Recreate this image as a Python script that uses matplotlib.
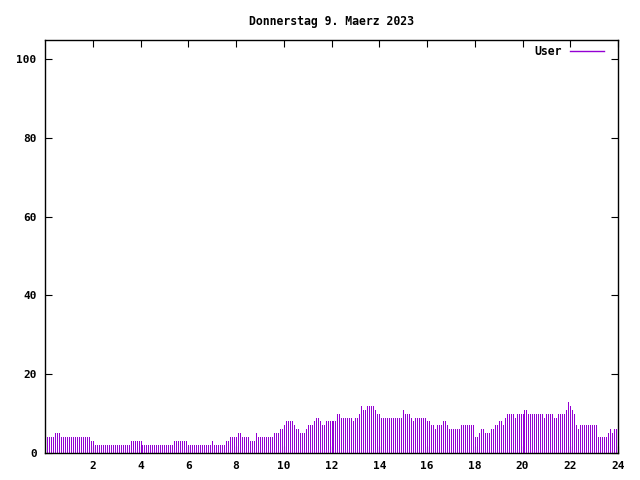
import numpy as np
import matplotlib
matplotlib.use("Agg")
import matplotlib.pyplot as plt
from matplotlib.lines import Line2D

# ====================== DATA ====================== #
# users online, one value per 5 minutes, one row per hour
title = "Donnerstag 9. Maerz 2023"
series_label = "User"
users = [
    4, 4, 4, 4, 4, 5, 5, 5, 4, 4, 4, 4,
    4, 4, 4, 4, 4, 4, 4, 4, 4, 4, 4, 3,
    3, 2, 2, 2, 2, 2, 2, 2, 2, 2, 2, 2,
    2, 2, 2, 2, 2, 2, 2, 3, 3, 3, 3, 3,
    3, 2, 2, 2, 2, 2, 2, 2, 2, 2, 2, 2,
    2, 2, 2, 2, 2, 3, 3, 3, 3, 3, 3, 3,
    2, 2, 2, 2, 2, 2, 2, 2, 2, 2, 2, 2,
    3, 2, 2, 2, 2, 2, 2, 3, 3, 4, 4, 4,
    4, 5, 5, 4, 4, 4, 4, 3, 3, 3, 5, 4,
    4, 4, 4, 4, 4, 4, 4, 5, 5, 5, 6, 6,
    7, 8, 8, 8, 8, 7, 6, 6, 5, 5, 5, 6,
    7, 7, 7, 8, 9, 9, 8, 7, 7, 8, 8, 8,
    8, 8, 8, 10, 10, 9, 9, 9, 9, 9, 9, 8,
    9, 9, 10, 12, 11, 11, 12, 12, 12, 12, 11, 10,
    10, 9, 9, 9, 9, 9, 9, 9, 9, 9, 9, 9,
    11, 10, 10, 10, 9, 8, 9, 9, 9, 9, 9, 9,
    8, 8, 7, 7, 6, 7, 7, 7, 8, 8, 7, 6,
    6, 6, 6, 6, 6, 7, 7, 7, 7, 7, 7, 7,
    4, 4, 5, 6, 6, 5, 5, 5, 6, 6, 7, 7,
    8, 8, 7, 9, 10, 10, 10, 10, 9, 10, 10, 10,
    10, 11, 11, 10, 10, 10, 10, 10, 10, 10, 10, 9,
    10, 10, 10, 10, 9, 9, 10, 10, 10, 10, 11, 13,
    12, 11, 10, 7, 6, 7, 7, 7, 7, 7, 7, 7,
    7, 7, 4, 4, 4, 4, 4, 5, 6, 5, 6, 6,
]
hours = np.arange(len(users)) / 12.0
x_ticks = [2, 4, 6, 8, 10, 12, 14, 16, 18, 20, 22, 24]
y_ticks = [0, 20, 40, 60, 80, 100]

# ====================== PLOT ====================== #
color = "#9400d3"
font = {"family": "DejaVu Sans Mono", "weight": "bold", "size": 8}

fig = plt.figure(figsize=(6.4, 4.8), dpi=100)
ax = fig.add_axes([45 / 640, 1 - 453 / 480, 573 / 640, 413 / 480])

ax.vlines(hours, 0, users, colors=color, linewidth=0.72, antialiased=False)

ax.set_xlim(0, 24)
ax.set_ylim(0, 104.8)
ax.set_xticks(x_ticks)
ax.set_yticks(y_ticks)
ax.set_xticklabels([str(t) for t in x_ticks], fontdict=font)
ax.set_yticklabels([str(t) for t in y_ticks], fontdict=font)
ax.tick_params(direction="in", length=5, width=0.8, top=True, right=True,
               pad=6, colors="black")

for spine in ax.spines.values():
    spine.set_linewidth(1)
    spine.set_color("black")

ax.set_title(title, fontdict={**font, "size": 8.3}, pad=11)

# legend handle drawn as a plain line, like gnuplot's key sample
handle = Line2D([], [], color=color, linewidth=1.0, antialiased=False)
leg = ax.legend([handle], [series_label], loc="upper right", frameon=False,
                prop={"family": "DejaVu Sans Mono", "weight": "bold", "size": 8.3},
                markerfirst=False, handlelength=2.9, borderaxespad=0.0,
                borderpad=0.45, handletextpad=0.7,
                bbox_to_anchor=(1 - 9 / 573, 1.0))

fig.savefig("out.png", dpi=100)
